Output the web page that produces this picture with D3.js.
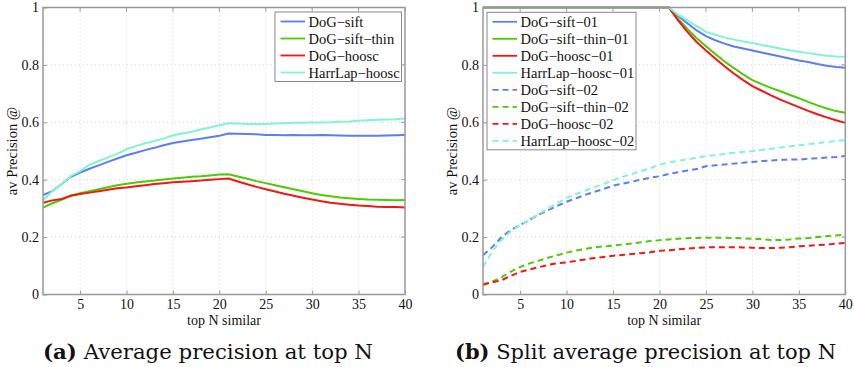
<!DOCTYPE html>
<html><head><meta charset="utf-8">
<script src="https://cdn.jsdelivr.net/npm/d3@7"></script>
<style>body{margin:0;background:#fff}svg{display:block}</style>
</head><body>
<script>
const N = d3.range(1, 41);
const xTicks = [5,10,15,20,25,30,35,40];
const yTicks = [0,0.2,0.4,0.6,0.8,1];

// Panel (a)
const aSift = [0.346,0.36,0.385,0.41,0.425,0.438,0.45,0.462,0.474,0.485,0.494,0.503,0.511,0.52,0.528,0.533,0.538,0.543,0.548,0.553,0.561,0.56,0.559,0.558,0.556,0.556,0.555,0.556,0.555,0.555,0.556,0.555,0.554,0.553,0.553,0.553,0.553,0.554,0.555,0.556];
const aThin = [0.303,0.318,0.33,0.345,0.353,0.36,0.367,0.374,0.381,0.386,0.39,0.394,0.397,0.401,0.404,0.407,0.41,0.412,0.415,0.418,0.419,0.411,0.403,0.395,0.388,0.381,0.374,0.367,0.36,0.353,0.347,0.342,0.338,0.335,0.333,0.331,0.33,0.329,0.328,0.329];
const aHoosc = [0.32,0.328,0.333,0.344,0.35,0.355,0.36,0.365,0.37,0.373,0.377,0.381,0.385,0.388,0.391,0.393,0.395,0.397,0.4,0.402,0.404,0.394,0.384,0.375,0.367,0.359,0.351,0.344,0.337,0.331,0.325,0.32,0.316,0.313,0.31,0.308,0.306,0.305,0.305,0.303];
const aHarr = [0.329,0.36,0.385,0.413,0.43,0.452,0.465,0.478,0.49,0.506,0.517,0.527,0.535,0.543,0.555,0.561,0.567,0.575,0.582,0.59,0.597,0.596,0.594,0.594,0.594,0.596,0.597,0.598,0.598,0.599,0.599,0.6,0.602,0.603,0.605,0.607,0.609,0.61,0.611,0.613];

// Panel (b)
const ones = [1,1,1,1,1,1,1,1,1,1,1,1,1,1,1,1,1,1,1,1];
const bSift01 = ones.concat([1.0,0.97,0.945,0.92,0.9,0.886,0.874,0.864,0.857,0.85,0.843,0.836,0.829,0.822,0.815,0.81,0.803,0.797,0.793,0.79]);
const bThin01 = ones.concat([1.0,0.96,0.925,0.893,0.865,0.838,0.812,0.789,0.767,0.747,0.733,0.72,0.708,0.696,0.684,0.671,0.659,0.648,0.639,0.633]);
const bHoosc01 = ones.concat([1.0,0.955,0.915,0.88,0.85,0.822,0.795,0.77,0.747,0.726,0.71,0.694,0.679,0.666,0.653,0.64,0.628,0.617,0.607,0.598]);
const bHarr01 = ones.concat([1.0,0.975,0.955,0.935,0.915,0.905,0.896,0.888,0.882,0.876,0.869,0.863,0.857,0.851,0.846,0.841,0.836,0.832,0.829,0.828]);
const bSift02 = [0.137,0.165,0.2,0.225,0.242,0.26,0.278,0.294,0.309,0.323,0.335,0.347,0.358,0.368,0.379,0.386,0.393,0.4,0.407,0.412,0.42,0.426,0.432,0.437,0.447,0.45,0.453,0.456,0.459,0.462,0.465,0.467,0.469,0.47,0.47,0.473,0.475,0.477,0.479,0.483];
const bThin02 = [0.032,0.045,0.06,0.08,0.096,0.108,0.118,0.128,0.137,0.146,0.153,0.159,0.164,0.168,0.17,0.174,0.178,0.182,0.186,0.189,0.192,0.194,0.196,0.197,0.198,0.198,0.198,0.197,0.196,0.194,0.193,0.19,0.19,0.192,0.195,0.197,0.2,0.203,0.206,0.208];
const bHoosc02 = [0.036,0.042,0.05,0.065,0.079,0.087,0.095,0.103,0.109,0.112,0.117,0.122,0.127,0.131,0.135,0.138,0.141,0.144,0.147,0.152,0.154,0.157,0.16,0.162,0.164,0.165,0.165,0.165,0.164,0.163,0.162,0.162,0.163,0.165,0.168,0.17,0.172,0.174,0.177,0.18];
const bHarr02 = [0.096,0.15,0.19,0.22,0.242,0.26,0.28,0.3,0.318,0.337,0.35,0.362,0.374,0.385,0.398,0.41,0.42,0.43,0.44,0.452,0.46,0.466,0.471,0.477,0.482,0.486,0.49,0.494,0.497,0.5,0.504,0.508,0.512,0.516,0.52,0.524,0.527,0.531,0.535,0.538];

const C = {blue:"#5b7ef2", green:"#4ccc00", red:"#f51515", cyan:"#80f5d2"};

const seriesA = [
  {name:"DoG\u2212sift", v:aSift, c:C.blue, dash:false},
  {name:"DoG\u2212sift\u2212thin", v:aThin, c:C.green, dash:false},
  {name:"DoG\u2212hoosc", v:aHoosc, c:C.red, dash:false},
  {name:"HarrLap\u2212hoosc", v:aHarr, c:C.cyan, dash:false}
];
const seriesB = [
  {name:"DoG\u2212sift\u221201", v:bSift01, c:C.blue, dash:false},
  {name:"DoG\u2212sift\u2212thin\u221201", v:bThin01, c:C.green, dash:false},
  {name:"DoG\u2212hoosc\u221201", v:bHoosc01, c:C.red, dash:false},
  {name:"HarrLap\u2212hoosc\u221201", v:bHarr01, c:C.cyan, dash:false},
  {name:"DoG\u2212sift\u221202", v:bSift02, c:C.blue, dash:true},
  {name:"DoG\u2212sift\u2212thin\u221202", v:bThin02, c:C.green, dash:true},
  {name:"DoG\u2212hoosc\u221202", v:bHoosc02, c:C.red, dash:true},
  {name:"HarrLap\u2212hoosc\u221202", v:bHarr02, c:C.cyan, dash:true}
];

const W = 854, H = 367;
const svg = d3.select("body").append("svg").attr("width", W).attr("height", H);
const FONT = "'Liberation Serif','Times New Roman',serif";
const CAPFONT = "'DejaVu Serif',serif";

function panel(id, left, right, series, legend, caption) {
  const top = 7.5, bottom = 294.5;
  const x = d3.scaleLinear().domain([1, 40]).range([left, right]);
  const y = d3.scaleLinear().domain([0, 1]).range([bottom, top]);
  const g = svg.append("g");
  g.append("defs").append("clipPath").attr("id", "clip" + id)
    .append("rect").attr("x", left).attr("y", top - 2).attr("width", right - left).attr("height", bottom - top + 2);

  // grid
  g.append("g").selectAll("line").data(xTicks.slice(0, -1)).join("line")
    .attr("x1", d => x(d)).attr("x2", d => x(d)).attr("y1", top).attr("y2", bottom)
    .attr("stroke", "#c8c8c8").attr("stroke-width", 0.8).attr("stroke-dasharray", "1,3");
  g.append("g").selectAll("line").data(yTicks.slice(1, -1)).join("line")
    .attr("x1", left).attr("x2", right).attr("y1", d => y(d)).attr("y2", d => y(d))
    .attr("stroke", "#c8c8c8").attr("stroke-width", 0.8).attr("stroke-dasharray", "1,3");

  // axes via d3
  const xa = g.append("g").attr("transform", `translate(0,${bottom})`)
    .call(d3.axisBottom(x).tickValues(xTicks).tickSize(-4).tickPadding(5));
  const ya = g.append("g").attr("transform", `translate(${left},0)`)
    .call(d3.axisLeft(y).tickValues(yTicks).tickSize(-4).tickPadding(4).tickFormat(d => d === 0 ? "0" : d === 1 ? "1" : d3.format(".1f")(d)));
  [xa, ya].forEach(a => {
    a.attr("font-family", FONT).attr("font-size", 14);
    a.select(".domain").remove();
    a.selectAll("line").attr("stroke", "#999");
    a.selectAll("text").attr("font-family", FONT).attr("font-size", 14).attr("fill", "#111");
  });
  // top/right ticks
  g.append("g").selectAll("line").data(xTicks).join("line")
    .attr("x1", d => x(d)).attr("x2", d => x(d)).attr("y1", top).attr("y2", top + 4).attr("stroke", "#999");
  g.append("g").selectAll("line").data(yTicks).join("line")
    .attr("x1", right).attr("x2", right - 4).attr("y1", d => y(d)).attr("y2", d => y(d)).attr("stroke", "#999");

  // lines
  const line = d3.line().x((d, i) => x(N[i])).y(d => y(d));
  g.append("g").attr("clip-path", `url(#clip${id})`).selectAll("path").data(series).join("path")
    .attr("d", d => line(d.v)).attr("fill", "none").attr("stroke", d => d.c)
    .attr("stroke-width", 2).attr("stroke-dasharray", d => d.dash ? "6,4" : null);

  // box
  g.append("rect").attr("x", left).attr("y", top).attr("width", right - left).attr("height", bottom - top)
    .attr("fill", "none").attr("stroke", "#999").attr("stroke-width", 1.5);

  // labels
  g.append("text").attr("x", (left + right) / 2).attr("y", 324.5).attr("text-anchor", "middle")
    .attr("font-family", FONT).attr("font-size", 14).attr("fill", "#111").text("top N similar");
  g.append("text").attr("transform", `translate(${left - 26},${(top + bottom) / 2}) rotate(-90)`)
    .attr("text-anchor", "middle").attr("font-family", FONT).attr("font-size", 14.5).attr("fill", "#111")
    .text("av Precision @");

  // legend
  const lg = g.append("g");
  lg.append("rect").attr("x", legend.x).attr("y", legend.y).attr("width", legend.w).attr("height", 17 * series.length + 1.5)
    .attr("fill", "#fff").attr("stroke", "#888").attr("stroke-width", 1);
  series.forEach((s, i) => {
    const cy = legend.y + 9.5 + i * 17;
    lg.append("line").attr("x1", legend.x + 5.5).attr("x2", legend.x + 30).attr("y1", cy).attr("y2", cy)
      .attr("stroke", s.c).attr("stroke-width", 1.8).attr("stroke-dasharray", s.dash ? "6,4" : null);
    lg.append("text").attr("x", legend.x + 33.5).attr("y", cy + 5).attr("font-family", FONT)
      .attr("font-size", 14.5).attr("fill", "#111").text(s.name);
  });

  // caption
  const cap = g.append("text").attr("x", caption.cx).attr("y", 359).attr("text-anchor", "middle")
    .attr("font-family", CAPFONT).attr("font-size", 19.5).attr("fill", "#111")
    .attr("textLength", caption.len).attr("lengthAdjust", "spacingAndGlyphs");
  cap.append("tspan").attr("font-weight", "bold").text(caption.tag);
  cap.append("tspan").text(" " + caption.text);
}

panel("a", 43, 405, seriesA, {x: 275, y: 12, w: 126.5}, {cx: 208, len: 330, tag: "(a)", text: "Average precision at top N"});
panel("b", 483, 845.3, seriesB, {x: 487, y: 12.3, w: 149}, {cx: 645.5, len: 381, tag: "(b)", text: "Split average precision at top N"});
</script>
</body></html>
